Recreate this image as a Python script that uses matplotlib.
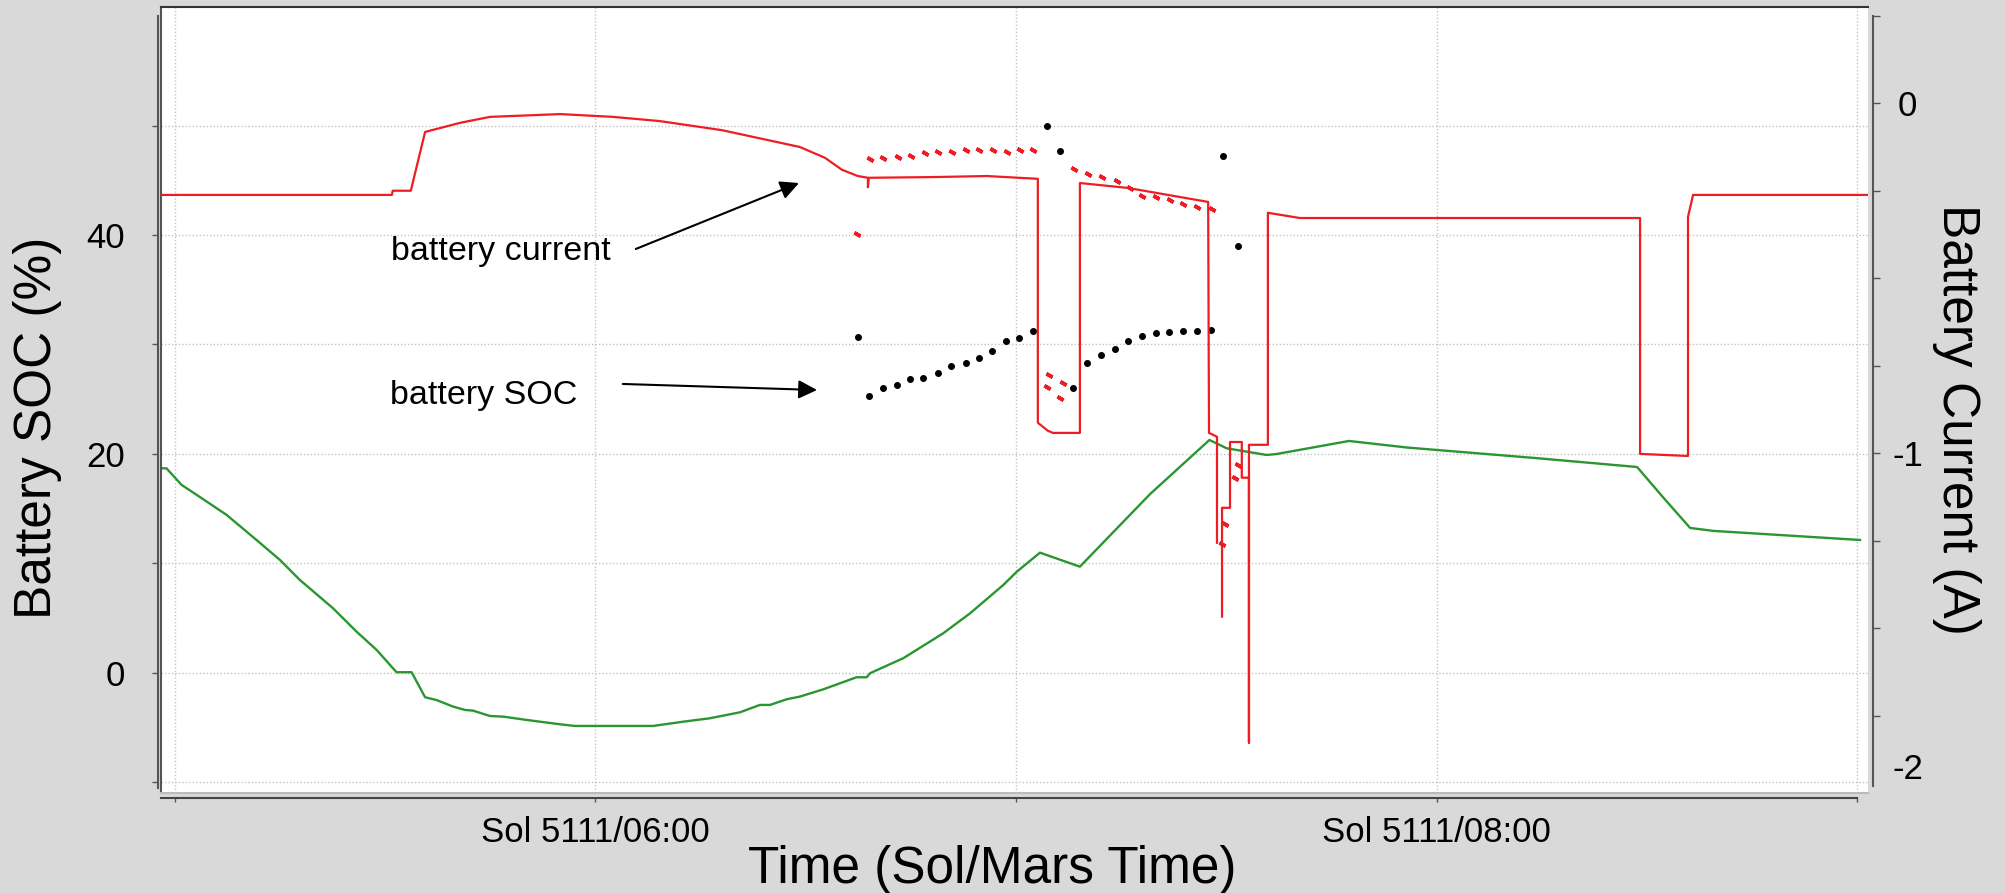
import numpy as np
import matplotlib.pyplot as plt

plt.rcParams['font.family'] = ['Liberation Sans', 'DejaVu Sans']

# Data, time in hours of Sol 5111

# green curve (left axis, %)
soc_t = [4.968, 4.980, 5.016, 5.052, 5.123, 5.194, 5.250, 5.297, 5.376, 5.432,
         5.480, 5.527, 5.563, 5.595, 5.622, 5.662, 5.690, 5.709, 5.749, 5.781,
         5.836, 5.916, 5.951, 6.137, 6.209, 6.272, 6.344, 6.391, 6.415, 6.455,
         6.486, 6.542, 6.621, 6.645, 6.653, 6.732, 6.827, 6.891, 6.970, 7.002,
         7.057, 7.152, 7.319, 7.460, 7.501, 7.557, 7.596, 7.620, 7.792, 7.930,
         8.232, 8.477, 8.536, 8.603, 8.658, 9.007]
soc_v = [18.68, 18.68, 17.16, 16.25, 14.42, 12.13, 10.30, 8.48, 5.89, 3.75,
         2.07, 0.04, 0.04, -2.25, -2.50, -3.11, -3.41, -3.47, -3.96, -4.02,
         -4.32, -4.72, -4.87, -4.87, -4.48, -4.17, -3.62, -2.95, -2.95, -2.43,
         -2.19, -1.52, -0.42, -0.42, -0.05, 1.32, 3.60, 5.43, 8.02, 9.23,
         10.97, 9.69, 16.33, 21.27, 20.51, 20.15, 19.90, 19.99, 21.18, 20.58,
         19.63, 18.80, 16.15, 13.23, 12.96, 12.13]

# red curve (right axis, A)
nan = np.nan
cur_t = [4.967, 5.516, 5.518, 5.561, 5.595, 5.678, 5.749, 5.916, 6.042, 6.153,
         6.301, 6.486, 6.546, 6.586, 6.624, 6.648, 6.648, 6.650, 6.803, 6.931,
         7.052, 7.052, 7.076, 7.088, 7.152, 7.152, 7.266, 7.457, 7.459, 7.478,
         7.478, nan, 7.490, 7.490, 7.509, 7.509, 7.537, 7.537, 7.554, 7.554,
         7.554, 7.599, 7.599, 7.675, 8.484, 8.484, 8.598, 8.598, 8.610, 9.026]
cur_a = [-0.262, -0.262, -0.250, -0.250, -0.082, -0.056, -0.039, -0.031, -0.039, -0.051,
         -0.077, -0.125, -0.156, -0.190, -0.208, -0.213, -0.240, -0.213, -0.211, -0.208,
         -0.216, -0.913, -0.936, -0.942, -0.942, -0.228, -0.242, -0.282, -0.942, -0.953,
         -1.256, nan, -1.467, -1.156, -1.156, -0.968, -0.968, -1.070, -1.070, -1.827,
         -0.976, -0.976, -0.313, -0.328, -0.328, -1.002, -1.008, -0.325, -0.262, -0.262]

# red samples (right axis, A)
cur_dot_t = [6.623, 6.653, 6.684, 6.719, 6.750, 6.784, 6.815, 6.849, 6.880, 6.913,
             6.945, 6.978, 7.010, 7.041, 7.073, 7.079, 7.105, 7.111, 7.137, 7.172,
             7.204, 7.240, 7.271, 7.299, 7.333, 7.366, 7.398, 7.431, 7.465, 7.490,
             7.496, 7.521, 7.527]
cur_dot_a = [-0.373, -0.160, -0.157, -0.153, -0.150, -0.143, -0.138, -0.138, -0.133, -0.133,
             -0.133, -0.139, -0.135, -0.135, -0.812, -0.776, -0.841, -0.800, -0.189, -0.203,
             -0.210, -0.221, -0.241, -0.265, -0.269, -0.276, -0.288, -0.297, -0.303, -1.260,
             -1.203, -1.070, -1.033]

# black samples (left axis, %)
soc_dot_t = [6.625, 6.651, 6.683, 6.716, 6.748, 6.780, 6.814, 6.845, 6.880, 6.912,
             6.944, 6.976, 7.008, 7.040, 7.073, 7.105, 7.136, 7.170, 7.202, 7.235,
             7.267, 7.299, 7.333, 7.365, 7.398, 7.431, 7.463, 7.493, 7.527]
soc_dot_v = [30.66, 25.29, 26.05, 26.30, 26.85, 26.94, 27.37, 28.03, 28.28, 28.74,
             29.41, 30.32, 30.57, 31.23, 50.00, 47.71, 26.05, 28.28, 29.04, 29.59,
             30.32, 30.78, 31.02, 31.11, 31.23, 31.23, 31.33, 47.26, 39.03]

hour_ticks = [5, 6, 7, 8, 9]
hour_labels = ['', 'Sol 5111/06:00', '', 'Sol 5111/08:00', '']
soc_ticks = [-10, 0, 10, 20, 30, 40, 50]
soc_labels = ['', '0', '', '20', '', '40', '']
cur_ticks = [0.25, 0, -0.25, -0.5, -0.75, -1, -1.25, -1.5, -1.75]
cur_labels = ['', '0', '', '', '', '-1', '', '', '']

# Colors
BG = '#d9d9d9'
RED = '#ee1d23'
GREEN = '#2a9630'
AXC = '#555555'


fig = plt.figure(figsize=(20.05, 8.93), dpi=100, facecolor=BG)
ax = fig.add_axes([161 / 2005, 1 - 793 / 893, 1707 / 2005, 786 / 893])
axr = ax.twinx()

ax.set_xlim(4.967, 9.026)
ax.set_ylim(-11.0, 60.85)
axr.set_ylim(-1.971, 0.275)

# grid
ax.set_xticks(hour_ticks, hour_labels)
ax.set_yticks(soc_ticks, soc_labels)
ax.grid(True, color='#c4c4c4', linestyle=(0, (1, 1.5)), linewidth=1)

# curves
ax.plot(soc_t, soc_v, color=GREEN, linewidth=1.7, zorder=3)
ax.plot(soc_dot_t, soc_dot_v, linestyle='none', marker='o', markersize=4,
        color='black', zorder=4)
axr.plot(cur_t, cur_a, color=RED, linewidth=1.6, zorder=3)
axr.plot(cur_dot_t, cur_dot_a, linestyle='none', marker=(2, 2, 60),
         markersize=5, markeredgewidth=2.6, color=RED, zorder=4)

# spines
ax.spines['top'].set_visible(False)
ax.spines['right'].set_visible(False)
ax.spines['left'].set_position(('outward', 2.5))
ax.spines['left'].set_bounds(-10.5, 60)
ax.spines['left'].set_color(AXC)
ax.spines['left'].set_linewidth(1.5)
ax.spines['bottom'].set_position(('outward', 3.6))
ax.spines['bottom'].set_bounds(4.967, 9.0)
ax.spines['bottom'].set_color('#444444')
ax.spines['bottom'].set_linewidth(1.5)

axr.spines['left'].set_color(AXC)
axr.spines['left'].set_linewidth(1.5)
axr.spines['top'].set_color('#333333')
axr.spines['top'].set_linewidth(1.5)
axr.spines['bottom'].set_color('#bbbbbb')
axr.spines['bottom'].set_linewidth(1.5)
axr.spines['right'].set_position(('outward', 3.6))
axr.spines['right'].set_bounds(-1.95, 0.25)
axr.spines['right'].set_color(AXC)
axr.spines['right'].set_linewidth(1.5)

# ticks
ax.tick_params(axis='x', length=3, width=1, color=AXC, labelsize=25, pad=10)
ax.tick_params(axis='y', length=4.3, width=1, color=AXC, labelsize=25, pad=19)
axr.set_yticks(cur_ticks, cur_labels)
axr.set_yticks([-1.895], ['-2'], minor=True)
axr.tick_params(axis='y', which='major', length=5, width=1, color=AXC,
                labelsize=25, pad=20)
axr.tick_params(axis='y', which='minor', length=0, labelsize=25, pad=25)
for t in axr.get_yticklabels() + axr.get_yticklabels(minor=True):
    t.set_horizontalalignment('center')

# axis titles
fig.text(38 / 2005, 1 - 428 / 893, 'Battery SOC (%)', rotation=90,
         fontsize=37, ha='center', va='center')
fig.text(1957 / 2005, 1 - 419 / 893, 'Battery Current (A)', rotation=270,
         fontsize=37, ha='center', va='center')
fig.text(992 / 2005, 1 - 883 / 893, 'Time (Sol/Mars Time)',
         fontsize=37, ha='center', va='baseline')

# notes with arrows
arrow = dict(arrowstyle='-|>', color='black', lw=1.5, mutation_scale=28,
             shrinkA=0, shrinkB=0)
ax.text(5.514, 37.72, 'battery current', fontsize=24.5, va='baseline')
ax.annotate('', xy=(6.484, 44.76), xytext=(6.096, 38.73), arrowprops=arrow)
ax.text(5.511, 24.56, 'battery SOC', fontsize=24.5, va='baseline')
ax.annotate('', xy=(6.527, 25.84), xytext=(6.065, 26.39), arrowprops=arrow)

fig.savefig('out.png', dpi=100, facecolor=BG)
